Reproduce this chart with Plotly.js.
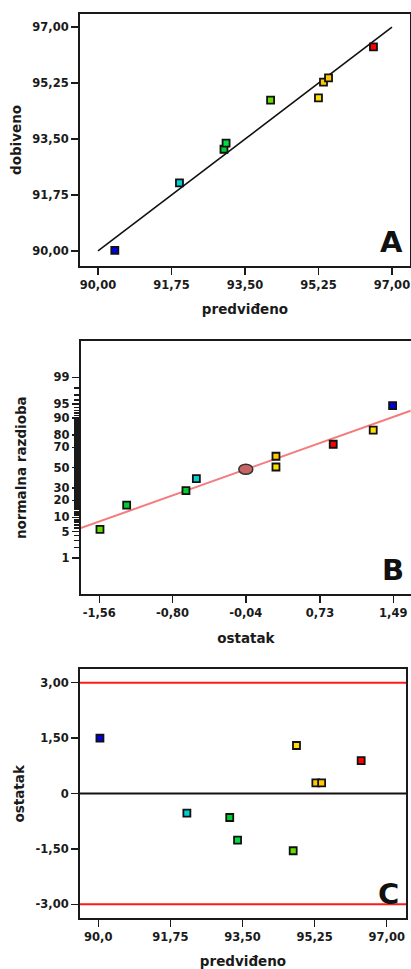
<!DOCTYPE html>
<html>
<head>
<meta charset="utf-8">
<script src="https://cdn.plot.ly/plotly-3.0.1.min.js"></script>
<style>html,body{margin:0;padding:0;background:#fff;}#chart{width:411px;height:969px;}</style>
</head>
<body>
<div id="chart"></div>
<script>
// ---------- Panel A: dobiveno vs predviđeno ----------
const predA = [90.40, 91.94, 93.00, 93.05, 94.11, 95.25, 95.37, 95.49, 96.56];
const obsA  = [90.02, 92.13, 93.18, 93.37, 94.72, 94.79, 95.28, 95.41, 96.38];
const colorsA = ['#0000e0','#00d0d0','#00cc33','#00dd44','#66dd00','#ffdd00','#ffc800','#ffc800','#ff0000'];
const fitAx = [90, 97];
const fitAy = [90, 97];
const ticksA = [90, 91.75, 93.5, 95.25, 97];
const tickTextAx = ['90,00','91,75','93,50','95,25','97,00'];
const tickTextAy = ['90,00','91,75','93,50','95,25','97,00'];

// ---------- Panel B: normal probability plot of residuals ----------
const resB  = [-1.553, -1.276, -0.661, -0.553, 0.273, 0.273, 0.867, 1.282, 1.483];
const probB = [5.6, 16.7, 27.8, 38.9, 50.7, 61.6, 72.7, 83.4, 94.5];
const colorsB = ['#66dd00','#00cc33','#00cc33','#00d0d0','#ffdd00','#ffc800','#ff0000','#ffdd00','#0000e0'];
const meanB = [-0.04];
const meanProbB = [48.4];
const lineBx = [-1.76, 1.67];
const lineBp = [5.9, 92.9];
const ticksBx = [-1.56, -0.80, -0.04, 0.73, 1.49];
const tickTextBx = ['-1,56','-0,80','-0,04','0,73','1,49'];
const ticksBp = [1, 5, 10, 20, 30, 50, 70, 80, 90, 95, 99];
const tickTextBp = ['1','5','10','20','30','50','70','80','90','95','99'];

// ---------- Panel C: ostatak vs predviđeno ----------
const xC   = [90.04, 92.15, 93.19, 93.38, 94.73, 94.81, 95.28, 95.42, 96.38];
const resC = [1.50, -0.53, -0.65, -1.26, -1.55, 1.30, 0.29, 0.29, 0.89];
const colorsC = ['#0000e0','#00d0d0','#00cc33','#00dd44','#66dd00','#ffdd00','#ffc800','#ffc800','#ff0000'];
const limitsC = [3, -3];
const zeroC = [0];
const ticksCx = [90, 91.75, 93.5, 95.25, 97];
const tickTextCx = ['90,0','91,75','93,50','95,25','97,00'];
const ticksCy = [3, 1.5, 0, -1.5, -3];
const tickTextCy = ['3,00','1,50','0','-1,50','-3,00'];

// inverse standard normal CDF (Acklam) for the probability scale
function norminv(p) {
  const a = [-3.969683028665376e+01, 2.209460984245205e+02, -2.759285104469687e+02, 1.383577518672690e+02, -3.066479806614716e+01, 2.506628277459239e+00];
  const b = [-5.447609879822406e+01, 1.615858368580409e+02, -1.556989798598866e+02, 6.680131188771972e+01, -1.328068155288572e+01];
  const c = [-7.784894002430293e-03, -3.223964580411365e-01, -2.400758277161838e+00, -2.549732539343734e+00, 4.374664141464968e+00, 2.938163982698783e+00];
  const d = [7.784695709041462e-03, 3.224671290700398e-01, 2.445134137142996e+00, 3.754408661907416e+00];
  const pl = 0.02425, ph = 1 - pl;
  let q, r;
  if (p < pl) { q = Math.sqrt(-2*Math.log(p)); return (((((c[0]*q+c[1])*q+c[2])*q+c[3])*q+c[4])*q+c[5]) / ((((d[0]*q+d[1])*q+d[2])*q+d[3])*q+1); }
  if (p <= ph) { q = p - 0.5; r = q*q; return (((((a[0]*r+a[1])*r+a[2])*r+a[3])*r+a[4])*r+a[5])*q / (((((b[0]*r+b[1])*r+b[2])*r+b[3])*r+b[4])*r+1); }
  q = Math.sqrt(-2*Math.log(1-p)); return -(((((c[0]*q+c[1])*q+c[2])*q+c[3])*q+c[4])*q+c[5]) / ((((d[0]*q+d[1])*q+d[2])*q+d[3])*q+1);
}
const zOf = arr => arr.map(v => norminv(v/100));
const minorP = [];
for (let k = 1; k <= 99; k++) if (!ticksBp.includes(k)) minorP.push(k);

const FONT = 'DejaVu Sans, Arial, sans-serif';
const ink = '#1a1a1a';
const mk = cols => ({symbol:'square', size:7, color:cols, line:{color:'#111', width:1.8}});

const traces = [
  {x: fitAx, y: fitAy, xaxis:'x', yaxis:'y', mode:'lines', line:{color:'#111', width:1.6}, hoverinfo:'skip'},
  {x: predA, y: obsA, xaxis:'x', yaxis:'y', mode:'markers', marker: mk(colorsA)},
  {x: lineBx, y: zOf(lineBp), xaxis:'x2', yaxis:'y2', mode:'lines', line:{color:'#f47c7c', width:2}, hoverinfo:'skip', cliponaxis:true},
  {x: resB, y: zOf(probB), xaxis:'x2', yaxis:'y2', mode:'markers', marker: mk(colorsB)},
  {x: xC, y: resC, xaxis:'x3', yaxis:'y3', mode:'markers', marker: mk(colorsC)}
];

const W = 411, H = 969;
const dx = (a, b) => [a/W, b/W];
const dy = (top, bot) => [1 - bot/H, 1 - top/H];

const axBase = {
  showline:true, linecolor:ink, linewidth:2, ticks:'outside', ticklen:7, tickwidth:1.5, tickcolor:ink,
  showgrid:false, zeroline:false, tickmode:'array',
  tickfont:{family:FONT, size:11.5, color:ink, weight:'bold'},
  title:{font:{family:FONT, size:13.5, color:ink, weight:'bold'}}
};
function ax(extra) { return Object.assign({}, JSON.parse(JSON.stringify(axBase)), extra, {title: Object.assign({}, axBase.title, extra.title || {})}); }

const layout = {
  width: W, height: H, showlegend:false,
  margin:{l:0, r:0, t:0, b:0},
  paper_bgcolor:'#fff', plot_bgcolor:'#fff',
  xaxis: ax({domain: dx(80, 410), range:[89.571, 97.43], anchor:'y', mirror:true, tickvals:ticksA, ticktext:tickTextAx, title:{text:'predviđeno', standoff:14}}),
  yaxis: ax({domain: dy(14, 266), range:[89.53, 97.41], anchor:'x', mirror:true, tickvals:ticksA, ticktext:tickTextAy, title:{text:'dobiveno', standoff:8}}),
  xaxis2: ax({domain: dx(80.7, 411), range:[-1.753, 1.674], anchor:'y2', mirror:true, tickvals:ticksBx, ticktext:tickTextBx, title:{text:'ostatak', standoff:14}}),
  yaxis2: ax({domain: dy(341, 594.3), range:[-3.263, 3.265], anchor:'x2', mirror:false, tickvals:zOf(ticksBp), ticktext:tickTextBp,
    minor:{tickmode:'array', tickvals:zOf(minorP), ticks:'outside', ticklen:5, tickwidth:1.6, tickcolor:ink, showgrid:false},
    title:{text:'normalna razdioba', standoff:24}}),
  xaxis3: ax({domain: dx(80, 406), range:[89.556, 97.468], anchor:'y3', mirror:true, tickvals:ticksCx, ticktext:tickTextCx, title:{text:'predviđeno', standoff:14}}),
  yaxis3: ax({domain: dy(669.3, 918.3), range:[-3.379, 3.363], anchor:'x3', mirror:true, tickvals:ticksCy, ticktext:tickTextCy, title:{text:'ostatak', standoff:8}}),
  shapes: [
    ...limitsC.map(v => ({type:'line', xref:'x3 domain', yref:'y3', x0:0, x1:1, y0:v, y1:v, line:{color:'#ff1a1a', width:2}})),
    ...zeroC.map(v => ({type:'line', xref:'x3 domain', yref:'y3', x0:0, x1:1, y0:v, y1:v, line:{color:'#111', width:2}})),
    ...meanB.map((v, i) => ({type:'circle', xref:'x2', yref:'y2', xsizemode:'pixel', ysizemode:'pixel',
      xanchor:v, yanchor:norminv(meanProbB[i]/100), x0:-7, x1:7, y0:-5, y1:5,
      fillcolor:'#c86464', line:{color:'#333', width:1.5}}))
  ],
  annotations: [
    {text:'A', xref:'x domain', yref:'y domain', x:0.985, y:0.02, xanchor:'right', yanchor:'bottom', showarrow:false, font:{family:FONT, size:29, color:'#111', weight:'bold'}},
    {text:'B', xref:'x2 domain', yref:'y2 domain', x:0.985, y:0.02, xanchor:'right', yanchor:'bottom', showarrow:false, font:{family:FONT, size:29, color:'#111', weight:'bold'}},
    {text:'C', xref:'x3 domain', yref:'y3 domain', x:0.985, y:0.02, xanchor:'right', yanchor:'bottom', showarrow:false, font:{family:FONT, size:29, color:'#111', weight:'bold'}}
  ]
};

Plotly.newPlot('chart', traces, layout, {staticPlot:true, displayModeBar:false});
</script>
</body>
</html>
